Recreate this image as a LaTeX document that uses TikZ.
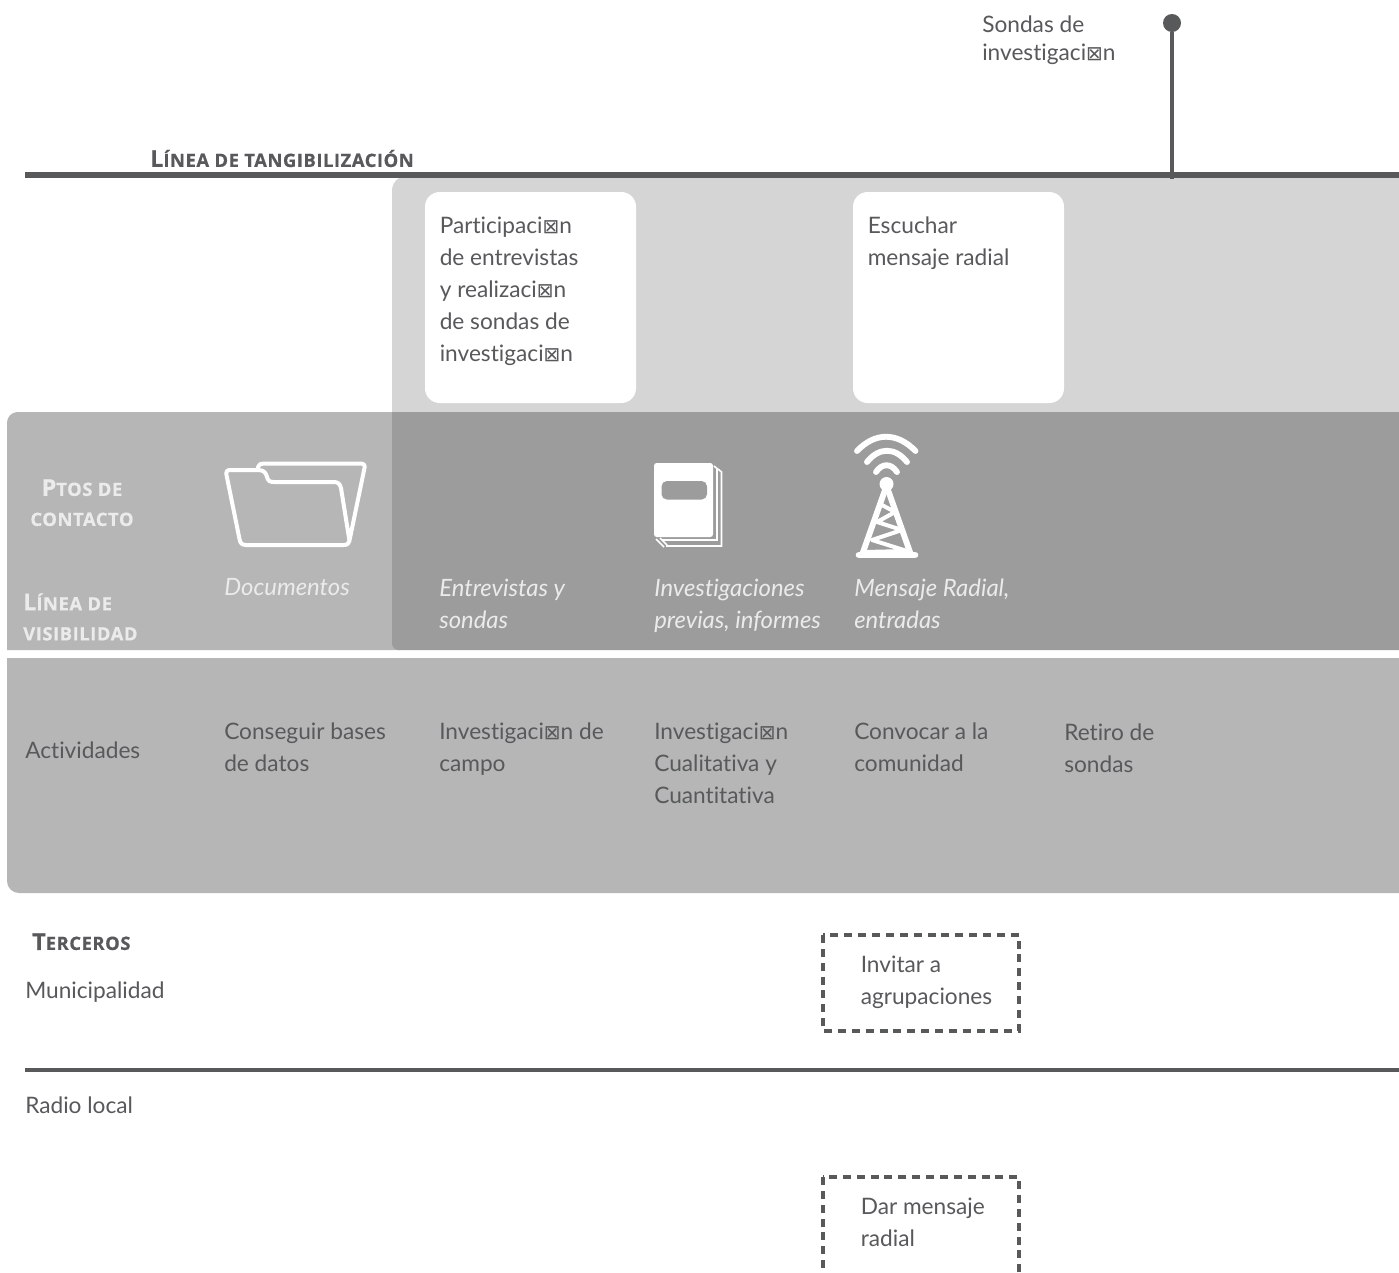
\documentclass[tikz,border=0pt]{standalone}
\usepackage{fontspec}
\setmainfont{Lato}[Ligatures=CommonOff]
\newfontfamily\symfont{DejaVu Sans}
\newfontfamily\capsfont{Open Sans}[LetterSpace=3,BoldFeatures={FakeBold=0.5}]
\definecolor{inkgray}{HTML}{58595B}
\definecolor{lightpanel}{HTML}{D5D5D5}
\definecolor{midpanel}{HTML}{B6B6B6}
\definecolor{darkpanel}{HTML}{9C9C9C}
\newcommand{\nog}{{\symfont\fontsize{15}{15}\selectfont ⊠}}
\newcommand{\bigc}[1]{{\fontsize{17.5}{17.5}\selectfont #1}}
\tikzset{
	txt/.style={anchor=north west,inner sep=0pt,align=left,text=inkgray,font=\fontsize{17}{24}\selectfont,execute at begin node={\rule{0pt}{14pt}}},
	contact/.style={txt,text=white!92!black,font=\fontsize{17.9}{24}\selectfont\itshape},
	rowlabel/.style={inner sep=0pt,align=left,font=\capsfont\bfseries\fontsize{13.8}{22.5}\selectfont,execute at begin node={\rule{0pt}{14pt}}},
	icon/.style={white,line width=3pt,line join=round,line cap=round},
	dashbox/.style={inkgray,line width=2.3pt,dash pattern=on 6pt off 4.4pt}
}
\begin{document}
\begin{tikzpicture}[x=0.75pt,y=-0.75pt]
	\clip (0,0) rectangle (1399,1272);
	\fill[white] (0,0) rectangle (1399,1272);
	% panels
	\fill[lightpanel] (1399,420) -- (392,420) [rounded corners=11pt] -- (392,176) [sharp corners] -- (1399,176) -- cycle;
	\fill[midpanel] (400,650) -- (7,650) [rounded corners=8pt] -- (7,412) [sharp corners] -- (400,412) -- cycle;
	\fill[darkpanel] (1399,412) -- (392,412) [rounded corners=5pt] -- (392,650) [sharp corners] -- (1399,650) -- cycle;
	\fill[midpanel] (1399,658) -- (7,658) [rounded corners=9pt] -- (7,893) [sharp corners] -- (1399,893) -- cycle;
	\fill[white,rounded corners=11pt] (425,192) rectangle (636,403);
	\fill[white,rounded corners=11pt] (853,192) rectangle (1064,403);
	% lines
	\coordinate (tangstart) at (25,175);
	\coordinate (tangend) at (1399,175);
	\draw[inkgray,line width=4.8pt] (tangstart) -- (tangend);
	\coordinate (thirdstart) at (25,1070);
	\coordinate (thirdend) at (1399,1070);
	\draw[inkgray,line width=2.3pt] (thirdstart) -- (thirdend);
	\node[circle,fill=inkgray,inner sep=0pt,minimum size=13.5pt] (sondasdot) at (1172,23) {};
	\coordinate (sondasend) at (1172,179);
	\draw[inkgray,line width=2.5pt] (sondasdot) -- (sondasend);
	% dashed boxes
	\draw[dashbox] (823,935) rectangle (1019,1031);
	\draw[dashbox] (823,1177) rectangle (1019,1300);
	% folder
	\draw[icon] (258,467) .. controls (259,464) and (261,463.5) .. (264,463.5) -- (360,463.5) .. controls (364,463.5) and (365,465) .. (364.5,468) -- (350,538) .. controls (349,543) and (348,545) .. (344,545) -- (246,545) .. controls (242,545) and (240,543) .. (239.5,539) -- (226.5,475) .. controls (226,471) and (227,470) .. (231,470) -- (258,470) .. controls (264,470) and (266,473) .. (267,477) .. controls (268,481) and (270,482) .. (274,482) -- (334,482) .. controls (338,482) and (340,484) .. (341,488) -- (349.5,541);
	% book
	\fill[white,rounded corners=2pt] (654,463) rectangle (713,537);
	\fill[darkpanel,rounded corners=4pt] (661.5,481) rectangle (707,499.5);
	\draw[white,line width=1.2pt] (714,466) -- (717,468.5) -- (717,540) -- (662,540);
	\draw[white,line width=1.2pt] (718,469) -- (721.5,472) -- (721.5,546) -- (666,546);
	\draw[white,line width=1.2pt] (656,539) -- (664,547);
	\draw[white,line width=1.2pt] (660,538) -- (667,545);
	% tower
	\draw[icon,line width=4.4pt] (857,451) .. controls (875,432) and (897,432) .. (915.5,451);
	\draw[icon,line width=4.4pt] (867,462) .. controls (879,447) and (895,447) .. (907,462);
	\draw[icon,line width=4.4pt] (876,472) .. controls (882,463) and (891,463) .. (897,472);
	\fill[white] (886.5,484) circle (7);
	\draw[icon,line width=4.4pt] (885,490) -- (862,555);
	\draw[icon,line width=4.4pt] (888,490) -- (911,555);
	\draw[icon,line width=5pt] (859,555) -- (915,555);
	\draw[icon,line width=3pt] (882,505) -- (895,512) -- (877,522) -- (902,530) -- (872,540) -- (907,551) -- (864,552);
	% texts
	\node[txt,font=\fontsize{17}{21}\selectfont] (sondas) at (982,16) {Sondas de\\investigaci\nog n};
	\node[txt] (partic) at (439.5,217) {Participaci\nog n\\de entrevistas\\y realizaci\nog n\\de sondas de\\investigaci\nog n};
	\node[txt] (escuchar) at (867.5,217) {Escuchar\\mensaje radial};
	\node[contact] (docs) at (224,577) {Documentos};
	\node[contact] (entrev) at (439,578.5) {Entrevistas y\\sondas};
	\node[contact] (invprev) at (654,578.5) {Investigaciones\\previas, informes};
	\node[contact] (mensaje) at (854,578.5) {Mensaje Radial,\\entradas};
	\node[txt] (activ) at (25,740) {Actividades};
	\node[txt] (bases) at (224,723) {Conseguir bases\\de datos};
	\node[txt] (campo) at (439,723) {Investigaci\nog n de\\campo};
	\node[txt] (cualit) at (654,723) {Investigaci\nog n\\Cualitativa y\\Cuantitativa};
	\node[txt] (convocar) at (854,723) {Convocar a la\\comunidad};
	\node[txt] (retiro) at (1064,724) {Retiro de\\sondas};
	\node[txt] (muni) at (25,980) {Municipalidad};
	\node[txt] (invitar) at (860.5,956) {Invitar a\\agrupaciones};
	\node[txt] (radio) at (25,1095) {Radio local};
	\node[txt] (dar) at (860.5,1198) {Dar mensaje\\radial};
	\node[rowlabel,anchor=north west,text=inkgray] (tang) at (150,148) {\bigc{L}ÍNEA DE TANGIBILIZACIÓN};
	\node[rowlabel,anchor=north,align=center,text=white!92!black] (ptos) at (82,479) {\bigc{P}TOS DE\\CONTACTO};
	\node[rowlabel,anchor=north west,text=white!92!black] (visib) at (23,593) {\bigc{L}ÍNEA DE\\VISIBILIDAD};
	\node[rowlabel,anchor=north west,text=inkgray] (terc) at (32,931) {\bigc{T}ERCEROS};
\end{tikzpicture}
\end{document}
